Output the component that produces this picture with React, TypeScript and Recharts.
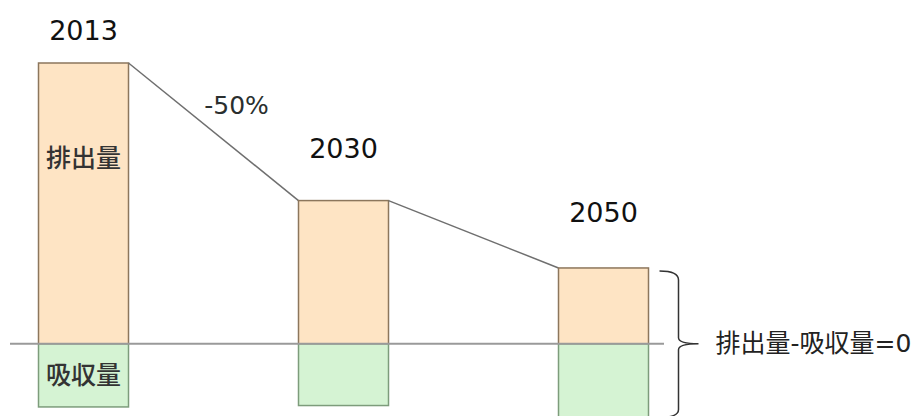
import { BarChart, Bar, XAxis, YAxis, ReferenceLine } from "recharts";

const years = ["2013", "2030", "2050"];
const emissions = [100, 51, 27];
const absorption = [-22.5, -22, -27];
const seriesNames = ["排出量", "吸収量"];
const changeLabel = "-50%";
const balanceLabel = "排出量-吸収量=0";

const W = 919;
const H = 428;
const M = { top: 63, right: 255, bottom: 0, left: 10 };
const PAD_L = -56.5;
const PAD_R = -69.5;
const BAR = 90;
const STEP = (W - M.left - M.right - PAD_L - PAD_R) / years.length;
// distance of each year label above its bar
const yearGap = [33, 52, 55];

const FONT = "'DejaVu Sans', 'Noto Sans CJK JP', sans-serif";
const ORANGE = "#fee4c4";
const ORANGE_EDGE = "#8c765c";
const GREEN = "#d5f3d3";
const GREEN_EDGE = "#7d9c7b";

const data = years.map((year, i) => ({
  year,
  emission: emissions[i],
  absorption: absorption[i],
}));

function EmissionShape(props: any) {
  const { x, y, width, height, index } = props;
  const k = height / emissions[index];
  const zeroY = y + height;
  const cx = x + width / 2;
  const next = index + 1 < emissions.length ? emissions[index + 1] : null;
  const nextY = next !== null ? zeroY - next * k : 0;
  const nextX = x + STEP;
  return (
    <g>
      <rect x={x} y={y} width={width} height={height} fill={ORANGE} stroke={ORANGE_EDGE} strokeWidth={1.5} />
      {next !== null && (
        <line x1={x + width} y1={y} x2={nextX} y2={nextY} stroke="#6f6f6f" strokeWidth={1.5} />
      )}
      <text x={cx} y={y - yearGap[index]} textAnchor="middle" dominantBaseline="central"
        fontFamily={FONT} fontSize={27} fill="#111">{years[index]}</text>
      {index === 0 && (
        <>
          <text x={cx} y={y + height * 0.34} textAnchor="middle" dominantBaseline="central"
            fontFamily={FONT} fontSize={25} fontWeight={500} fill="#333">{seriesNames[0]}</text>
          <text x={(x + width + nextX) / 2 + 23} y={(y + nextY) / 2 - 26} textAnchor="middle"
            dominantBaseline="central" fontFamily={FONT} fontSize={25} fill="#2a2f2f">{changeLabel}</text>
        </>
      )}
      {index === emissions.length - 1 && (() => {
        const bottom = zeroY - absorption[index] * k;
        const x0 = x + width + 11;
        const xm = x0 + 19;
        const xn = xm + 20;
        const d = `M${x0},${y + 3} Q${xm},${y + 3} ${xm},${y + 12} L${xm},${zeroY - 6} Q${xm},${zeroY} ${xn},${zeroY} Q${xm},${zeroY} ${xm},${zeroY + 6} L${xm},${bottom - 10} Q${xm},${bottom - 2} ${x0},${bottom - 2}`;
        return (
          <g>
            <path d={d} fill="none" stroke="#333" strokeWidth={1.5} />
            <text x={xn + 17} y={zeroY} dominantBaseline="central" fontFamily={FONT}
              fontSize={25} fill="#222">{balanceLabel}</text>
          </g>
        );
      })()}
    </g>
  );
}

function AbsorptionShape(props: any) {
  const { x, y, width, height, index } = props;
  const top = Math.min(y, y + height);
  const h = Math.abs(height);
  return (
    <g>
      <rect x={x} y={top} width={width} height={h} fill={GREEN} stroke={GREEN_EDGE} strokeWidth={1.5} />
      {index === 0 && (
        <text x={x + width / 2} y={top + h / 2} textAnchor="middle" dominantBaseline="central"
          fontFamily={FONT} fontSize={25} fontWeight={500} fill="#333">{seriesNames[1]}</text>
      )}
    </g>
  );
}

export default function App() {
  return (
    <div style={{ position: "absolute", left: 0, top: 0, background: "#fff" }}>
      <BarChart width={W} height={H} data={data} margin={M} stackOffset="sign" barSize={BAR}>
        <XAxis dataKey="year" hide padding={{ left: PAD_L, right: PAD_R }} />
        <YAxis hide type="number" domain={[-30, 100]} />
        <Bar dataKey="emission" stackId="a" shape={EmissionShape} isAnimationActive={false} />
        <Bar dataKey="absorption" stackId="a" shape={AbsorptionShape} isAnimationActive={false} />
        <ReferenceLine y={0} stroke="#9a9a9a" strokeWidth={2} />
      </BarChart>
    </div>
  );
}
